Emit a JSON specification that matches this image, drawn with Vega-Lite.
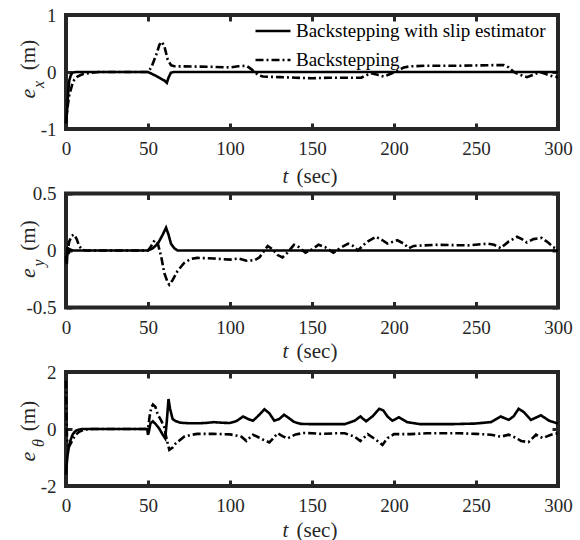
{
"$schema": "https://vega.github.io/schema/vega-lite/v6.json",
"padding": {"left": 14, "top": 4, "right": 5, "bottom": 0},
"background": "white",
"config": {
  "font": "Liberation Serif",
  "view": {"stroke": "#262626", "strokeWidth": 4},
  "axis": {"domain": false, "grid": false, "labelFont": "Liberation Serif", "labelFontSize": 19, "labelColor": "#262626", "titleColor": "#262626", "tickColor": "#262626", "tickWidth": 3, "tickSize": -6, "titleFont": "Liberation Serif", "titleFontWeight": "normal", "titleFontSize": 21, "labelFlush": false}
},
"datasets": {
"ex": [
{"t":0,"s":"Backstepping with slip estimator","v":-0.9},{"t":0.5,"s":"Backstepping with slip estimator","v":-0.75},{"t":1,"s":"Backstepping with slip estimator","v":-0.5},{"t":1.5,"s":"Backstepping with slip estimator","v":-0.3},{"t":2,"s":"Backstepping with slip estimator","v":-0.15},{"t":3,"s":"Backstepping with slip estimator","v":-0.05},{"t":4,"s":"Backstepping with slip estimator","v":-0.01},{"t":6,"s":"Backstepping with slip estimator","v":0},{"t":50,"s":"Backstepping with slip estimator","v":0},{"t":55,"s":"Backstepping with slip estimator","v":-0.07},{"t":60,"s":"Backstepping with slip estimator","v":-0.15},{"t":61.5,"s":"Backstepping with slip estimator","v":-0.19},{"t":62.5,"s":"Backstepping with slip estimator","v":-0.1},{"t":64,"s":"Backstepping with slip estimator","v":-0.01},{"t":66,"s":"Backstepping with slip estimator","v":0},{"t":150,"s":"Backstepping with slip estimator","v":0},{"t":300,"s":"Backstepping with slip estimator","v":0},
{"t":0,"s":"Backstepping","v":-0.9},{"t":1,"s":"Backstepping","v":-0.6},{"t":2,"s":"Backstepping","v":-0.4},{"t":3,"s":"Backstepping","v":-0.3},{"t":4,"s":"Backstepping","v":-0.2},{"t":5,"s":"Backstepping","v":-0.14},{"t":7,"s":"Backstepping","v":-0.08},{"t":10,"s":"Backstepping","v":-0.04},{"t":15,"s":"Backstepping","v":-0.015},{"t":20,"s":"Backstepping","v":0},{"t":50,"s":"Backstepping","v":0},{"t":52,"s":"Backstepping","v":0.08},{"t":55,"s":"Backstepping","v":0.3},{"t":57,"s":"Backstepping","v":0.48},{"t":58.5,"s":"Backstepping","v":0.53},{"t":60,"s":"Backstepping","v":0.45},{"t":62,"s":"Backstepping","v":0.22},{"t":64,"s":"Backstepping","v":0.12},{"t":66,"s":"Backstepping","v":0.1},{"t":80,"s":"Backstepping","v":0.095},{"t":90,"s":"Backstepping","v":0.09},{"t":100,"s":"Backstepping","v":0.08},{"t":105,"s":"Backstepping","v":0.1},{"t":110,"s":"Backstepping","v":0.11},{"t":113,"s":"Backstepping","v":0.05},{"t":117,"s":"Backstepping","v":-0.05},{"t":120,"s":"Backstepping","v":-0.08},{"t":130,"s":"Backstepping","v":-0.09},{"t":140,"s":"Backstepping","v":-0.1},{"t":150,"s":"Backstepping","v":-0.11},{"t":160,"s":"Backstepping","v":-0.1},{"t":180,"s":"Backstepping","v":-0.1},{"t":183,"s":"Backstepping","v":-0.06},{"t":186,"s":"Backstepping","v":-0.02},{"t":190,"s":"Backstepping","v":-0.05},{"t":194,"s":"Backstepping","v":-0.08},{"t":198,"s":"Backstepping","v":-0.03},{"t":202,"s":"Backstepping","v":0.02},{"t":206,"s":"Backstepping","v":0.08},{"t":210,"s":"Backstepping","v":0.1},{"t":220,"s":"Backstepping","v":0.11},{"t":240,"s":"Backstepping","v":0.11},{"t":260,"s":"Backstepping","v":0.12},{"t":267,"s":"Backstepping","v":0.12},{"t":270,"s":"Backstepping","v":0.08},{"t":273,"s":"Backstepping","v":0},{"t":277,"s":"Backstepping","v":-0.05},{"t":281,"s":"Backstepping","v":-0.09},{"t":285,"s":"Backstepping","v":-0.05},{"t":289,"s":"Backstepping","v":0},{"t":293,"s":"Backstepping","v":-0.04},{"t":297,"s":"Backstepping","v":-0.08},{"t":300,"s":"Backstepping","v":-0.09}
],
"ey": [
{"t":0,"s":"Backstepping with slip estimator","v":-0.05},{"t":0.5,"s":"Backstepping with slip estimator","v":-0.12},{"t":1,"s":"Backstepping with slip estimator","v":0.03},{"t":1.5,"s":"Backstepping with slip estimator","v":-0.03},{"t":2.5,"s":"Backstepping with slip estimator","v":0.01},{"t":4,"s":"Backstepping with slip estimator","v":0},{"t":50,"s":"Backstepping with slip estimator","v":0},{"t":53,"s":"Backstepping with slip estimator","v":0.02},{"t":56,"s":"Backstepping with slip estimator","v":0.06},{"t":59,"s":"Backstepping with slip estimator","v":0.14},{"t":61,"s":"Backstepping with slip estimator","v":0.2},{"t":62.5,"s":"Backstepping with slip estimator","v":0.14},{"t":64,"s":"Backstepping with slip estimator","v":0.06},{"t":66,"s":"Backstepping with slip estimator","v":0.02},{"t":68,"s":"Backstepping with slip estimator","v":0},{"t":300,"s":"Backstepping with slip estimator","v":0},
{"t":0,"s":"Backstepping","v":-0.1},{"t":1,"s":"Backstepping","v":0},{"t":2,"s":"Backstepping","v":0.08},{"t":3.5,"s":"Backstepping","v":0.13},{"t":5,"s":"Backstepping","v":0.14},{"t":6.5,"s":"Backstepping","v":0.1},{"t":8,"s":"Backstepping","v":0.04},{"t":10,"s":"Backstepping","v":0.005},{"t":12,"s":"Backstepping","v":0},{"t":50,"s":"Backstepping","v":0},{"t":52,"s":"Backstepping","v":0.04},{"t":54,"s":"Backstepping","v":0.09},{"t":56,"s":"Backstepping","v":0.06},{"t":58,"s":"Backstepping","v":-0.05},{"t":60,"s":"Backstepping","v":-0.2},{"t":62,"s":"Backstepping","v":-0.28},{"t":63,"s":"Backstepping","v":-0.3},{"t":65,"s":"Backstepping","v":-0.26},{"t":68,"s":"Backstepping","v":-0.18},{"t":72,"s":"Backstepping","v":-0.11},{"t":76,"s":"Backstepping","v":-0.075},{"t":80,"s":"Backstepping","v":-0.065},{"t":90,"s":"Backstepping","v":-0.07},{"t":100,"s":"Backstepping","v":-0.08},{"t":105,"s":"Backstepping","v":-0.07},{"t":110,"s":"Backstepping","v":-0.09},{"t":115,"s":"Backstepping","v":-0.085},{"t":118,"s":"Backstepping","v":-0.06},{"t":121,"s":"Backstepping","v":0},{"t":123,"s":"Backstepping","v":0.04},{"t":126,"s":"Backstepping","v":0.01},{"t":129,"s":"Backstepping","v":-0.04},{"t":132,"s":"Backstepping","v":-0.06},{"t":135,"s":"Backstepping","v":-0.02},{"t":139,"s":"Backstepping","v":0.05},{"t":142,"s":"Backstepping","v":0.03},{"t":146,"s":"Backstepping","v":-0.02},{"t":150,"s":"Backstepping","v":0.01},{"t":154,"s":"Backstepping","v":0.05},{"t":158,"s":"Backstepping","v":0.03},{"t":163,"s":"Backstepping","v":-0.02},{"t":167,"s":"Backstepping","v":0.02},{"t":172,"s":"Backstepping","v":0.06},{"t":175,"s":"Backstepping","v":0.04},{"t":178,"s":"Backstepping","v":0},{"t":183,"s":"Backstepping","v":0.07},{"t":189,"s":"Backstepping","v":0.12},{"t":193,"s":"Backstepping","v":0.09},{"t":196,"s":"Backstepping","v":0.06},{"t":202,"s":"Backstepping","v":0.09},{"t":206,"s":"Backstepping","v":0.06},{"t":209,"s":"Backstepping","v":0.02},{"t":212,"s":"Backstepping","v":0.04},{"t":225,"s":"Backstepping","v":0.05},{"t":245,"s":"Backstepping","v":0.045},{"t":257,"s":"Backstepping","v":0.06},{"t":261,"s":"Backstepping","v":0.05},{"t":265,"s":"Backstepping","v":0.02},{"t":270,"s":"Backstepping","v":0.08},{"t":275,"s":"Backstepping","v":0.12},{"t":278,"s":"Backstepping","v":0.1},{"t":281,"s":"Backstepping","v":0.07},{"t":285,"s":"Backstepping","v":0.1},{"t":290,"s":"Backstepping","v":0.11},{"t":294,"s":"Backstepping","v":0.07},{"t":297,"s":"Backstepping","v":0.03},{"t":300,"s":"Backstepping","v":0.01}
],
"eth": [
{"t":0,"s":"Backstepping with slip estimator","v":-1.6},{"t":0.5,"s":"Backstepping with slip estimator","v":-1.2},{"t":1,"s":"Backstepping with slip estimator","v":-0.9},{"t":2,"s":"Backstepping with slip estimator","v":-0.55},{"t":3,"s":"Backstepping with slip estimator","v":-0.35},{"t":4,"s":"Backstepping with slip estimator","v":-0.2},{"t":5,"s":"Backstepping with slip estimator","v":-0.12},{"t":6,"s":"Backstepping with slip estimator","v":-0.06},{"t":8,"s":"Backstepping with slip estimator","v":-0.02},{"t":10,"s":"Backstepping with slip estimator","v":0},{"t":49.5,"s":"Backstepping with slip estimator","v":0},{"t":50,"s":"Backstepping with slip estimator","v":-0.2},{"t":50.5,"s":"Backstepping with slip estimator","v":-0.1},{"t":51.5,"s":"Backstepping with slip estimator","v":0.2},{"t":53,"s":"Backstepping with slip estimator","v":0.27},{"t":55,"s":"Backstepping with slip estimator","v":0.15},{"t":57,"s":"Backstepping with slip estimator","v":0},{"t":59,"s":"Backstepping with slip estimator","v":-0.2},{"t":60.5,"s":"Backstepping with slip estimator","v":-0.33},{"t":61.5,"s":"Backstepping with slip estimator","v":0.3},{"t":62.5,"s":"Backstepping with slip estimator","v":1.05},{"t":63.5,"s":"Backstepping with slip estimator","v":0.7},{"t":65,"s":"Backstepping with slip estimator","v":0.35},{"t":67,"s":"Backstepping with slip estimator","v":0.27},{"t":70,"s":"Backstepping with slip estimator","v":0.22},{"t":75,"s":"Backstepping with slip estimator","v":0.2},{"t":80,"s":"Backstepping with slip estimator","v":0.2},{"t":85,"s":"Backstepping with slip estimator","v":0.21},{"t":90,"s":"Backstepping with slip estimator","v":0.24},{"t":95,"s":"Backstepping with slip estimator","v":0.22},{"t":100,"s":"Backstepping with slip estimator","v":0.21},{"t":104,"s":"Backstepping with slip estimator","v":0.28},{"t":108,"s":"Backstepping with slip estimator","v":0.44},{"t":111,"s":"Backstepping with slip estimator","v":0.35},{"t":114,"s":"Backstepping with slip estimator","v":0.29},{"t":117,"s":"Backstepping with slip estimator","v":0.45},{"t":121,"s":"Backstepping with slip estimator","v":0.69},{"t":124,"s":"Backstepping with slip estimator","v":0.55},{"t":127,"s":"Backstepping with slip estimator","v":0.29},{"t":130,"s":"Backstepping with slip estimator","v":0.35},{"t":133,"s":"Backstepping with slip estimator","v":0.5},{"t":136,"s":"Backstepping with slip estimator","v":0.38},{"t":139,"s":"Backstepping with slip estimator","v":0.25},{"t":143,"s":"Backstepping with slip estimator","v":0.18},{"t":150,"s":"Backstepping with slip estimator","v":0.17},{"t":170,"s":"Backstepping with slip estimator","v":0.17},{"t":176,"s":"Backstepping with slip estimator","v":0.29},{"t":179.5,"s":"Backstepping with slip estimator","v":0.44},{"t":183,"s":"Backstepping with slip estimator","v":0.27},{"t":187,"s":"Backstepping with slip estimator","v":0.45},{"t":191,"s":"Backstepping with slip estimator","v":0.71},{"t":193.5,"s":"Backstepping with slip estimator","v":0.65},{"t":196,"s":"Backstepping with slip estimator","v":0.44},{"t":199,"s":"Backstepping with slip estimator","v":0.29},{"t":203,"s":"Backstepping with slip estimator","v":0.41},{"t":208,"s":"Backstepping with slip estimator","v":0.24},{"t":216,"s":"Backstepping with slip estimator","v":0.17},{"t":235,"s":"Backstepping with slip estimator","v":0.17},{"t":249,"s":"Backstepping with slip estimator","v":0.19},{"t":259,"s":"Backstepping with slip estimator","v":0.24},{"t":265,"s":"Backstepping with slip estimator","v":0.44},{"t":270,"s":"Backstepping with slip estimator","v":0.32},{"t":273,"s":"Backstepping with slip estimator","v":0.45},{"t":276,"s":"Backstepping with slip estimator","v":0.71},{"t":279,"s":"Backstepping with slip estimator","v":0.6},{"t":283.5,"s":"Backstepping with slip estimator","v":0.32},{"t":289.6,"s":"Backstepping with slip estimator","v":0.48},{"t":294.6,"s":"Backstepping with slip estimator","v":0.29},{"t":299,"s":"Backstepping with slip estimator","v":0.21},{"t":300,"s":"Backstepping with slip estimator","v":0.2},
{"t":0,"s":"Backstepping","v":1.7},{"t":0.3,"s":"Backstepping","v":0.5},{"t":0.6,"s":"Backstepping","v":-0.3},{"t":1,"s":"Backstepping","v":-0.55},{"t":2,"s":"Backstepping","v":-0.6},{"t":3,"s":"Backstepping","v":-0.5},{"t":4,"s":"Backstepping","v":-0.38},{"t":5,"s":"Backstepping","v":-0.28},{"t":6,"s":"Backstepping","v":-0.2},{"t":8,"s":"Backstepping","v":-0.1},{"t":10,"s":"Backstepping","v":-0.05},{"t":13,"s":"Backstepping","v":-0.01},{"t":16,"s":"Backstepping","v":0},{"t":50,"s":"Backstepping","v":0},{"t":51,"s":"Backstepping","v":0.45},{"t":52,"s":"Backstepping","v":0.75},{"t":53,"s":"Backstepping","v":0.86},{"t":54.5,"s":"Backstepping","v":0.78},{"t":56,"s":"Backstepping","v":0.5},{"t":58,"s":"Backstepping","v":0.3},{"t":60,"s":"Backstepping","v":0.05},{"t":61.5,"s":"Backstepping","v":-0.4},{"t":63,"s":"Backstepping","v":-0.73},{"t":65,"s":"Backstepping","v":-0.65},{"t":67,"s":"Backstepping","v":-0.5},{"t":72,"s":"Backstepping","v":-0.27},{"t":77,"s":"Backstepping","v":-0.2},{"t":80,"s":"Backstepping","v":-0.17},{"t":90,"s":"Backstepping","v":-0.17},{"t":100,"s":"Backstepping","v":-0.19},{"t":103,"s":"Backstepping","v":-0.22},{"t":107,"s":"Backstepping","v":-0.27},{"t":110,"s":"Backstepping","v":-0.42},{"t":114,"s":"Backstepping","v":-0.2},{"t":117,"s":"Backstepping","v":-0.28},{"t":120,"s":"Backstepping","v":-0.37},{"t":124,"s":"Backstepping","v":-0.47},{"t":126,"s":"Backstepping","v":-0.35},{"t":129,"s":"Backstepping","v":-0.15},{"t":132,"s":"Backstepping","v":-0.25},{"t":135,"s":"Backstepping","v":-0.33},{"t":140,"s":"Backstepping","v":-0.19},{"t":145,"s":"Backstepping","v":-0.14},{"t":150,"s":"Backstepping","v":-0.15},{"t":155,"s":"Backstepping","v":-0.17},{"t":165,"s":"Backstepping","v":-0.15},{"t":170,"s":"Backstepping","v":-0.15},{"t":176,"s":"Backstepping","v":-0.27},{"t":179.5,"s":"Backstepping","v":-0.42},{"t":184,"s":"Backstepping","v":-0.18},{"t":189,"s":"Backstepping","v":-0.38},{"t":193,"s":"Backstepping","v":-0.56},{"t":196,"s":"Backstepping","v":-0.32},{"t":200,"s":"Backstepping","v":-0.18},{"t":210,"s":"Backstepping","v":-0.18},{"t":220,"s":"Backstepping","v":-0.15},{"t":240,"s":"Backstepping","v":-0.15},{"t":250,"s":"Backstepping","v":-0.17},{"t":259,"s":"Backstepping","v":-0.2},{"t":265,"s":"Backstepping","v":-0.27},{"t":270,"s":"Backstepping","v":-0.2},{"t":274,"s":"Backstepping","v":-0.3},{"t":277.5,"s":"Backstepping","v":-0.42},{"t":282,"s":"Backstepping","v":-0.46},{"t":286.6,"s":"Backstepping","v":-0.2},{"t":290.8,"s":"Backstepping","v":-0.32},{"t":295.7,"s":"Backstepping","v":-0.2},{"t":300,"s":"Backstepping","v":-0.15}
]
},
"spacing": 64.5,
"bounds": "flush",
"resolve": {"legend": {"strokeDash": "independent"}},
"vconcat": [
{
 "width": 492, "height": 114,
 "data": {"name": "ex"},
 "resolve": {"axis": {"x": "independent", "y": "independent"}},
 "layer": [
  {"mark": {"type": "line", "color": "black", "strokeWidth": 2.6},
   "encoding": {
    "x": {"field": "t", "type": "quantitative", "scale": {"domain": [0,300], "nice": false}, "axis": {"orient": "bottom", "values": [0,50,100,150,200,250,300], "labelBaseline": "alphabetic", "labelPadding": 31.5, "title": "(sec)", "titleX": 250.5, "titleY": 53, "titleAlign": "center", "titleBaseline": "alphabetic"}},
    "y": {"field": "v", "type": "quantitative", "scale": {"domain": [-1,1], "nice": false}, "axis": {"orient": "left", "values": [-1,0,1], "labelExpr": "datum.value < 0 ? '-' + format(-datum.value, '~g') : format(datum.value, '~g')", "labelPadding": 16, "title": "(m)", "titleAngle": 270, "titleX": -31.5, "titleY": 39.5, "titleAlign": "center", "titleBaseline": "alphabetic"}},
    "strokeDash": {"field": "s", "type": "nominal", "scale": {"domain": ["Backstepping with slip estimator", "Backstepping"], "range": [[1,0],[8,3,2,3]]}, "legend": {"orient": "none", "legendX": 188, "legendY": -3, "title": null, "padding": 0, "symbolType": "stroke", "symbolSize": 1225, "symbolStrokeWidth": 2.6, "symbolStrokeColor": "black", "labelFont": "Liberation Serif", "labelFontSize": 19, "labelColor": "black", "labelOffset": 4, "rowPadding": -9, "labelLimit": 400}}
   }},
  {"mark": {"type": "line", "opacity": 0},
   "encoding": {
    "x": {"field": "t", "type": "quantitative", "axis": {"orient": "top", "values": [0,50,100,150,200,250,300], "labels": false, "title": null}},
    "y": {"field": "v", "type": "quantitative", "axis": {"orient": "right", "values": [-1,0,1], "labels": false, "title": null}}
   }},
  {"mark": {"type": "line", "opacity": 0},
   "encoding": {
    "x": {"field": "t", "type": "quantitative", "axis": {"orient": "bottom", "labels": false, "ticks": false, "title": "t", "titleFontStyle": "italic", "titleX": 219, "titleY": 53, "titleAlign": "center", "titleBaseline": "alphabetic"}},
    "y": {"field": "v", "type": "quantitative", "axis": {"orient": "left", "labels": false, "ticks": false, "title": "e", "titleFontStyle": "italic", "titleFontSize": 22, "titleAngle": 270, "titleX": -31.5, "titleY": 78, "titleAlign": "center", "titleBaseline": "alphabetic"}}
   }},
  {"mark": {"type": "line", "opacity": 0},
   "encoding": {
    "x": {"field": "t", "type": "quantitative", "axis": null},
    "y": {"field": "v", "type": "quantitative", "axis": {"orient": "left", "labels": false, "ticks": false, "title": "x", "titleFontStyle": "italic", "titleFontSize": 16, "titleAngle": 270, "titleX": -23, "titleY": 69, "titleAlign": "center", "titleBaseline": "alphabetic"}}
   }}
 ]
},
{
 "width": 492, "height": 114,
 "data": {"name": "ey"},
 "resolve": {"axis": {"x": "independent", "y": "independent"}},
 "layer": [
  {"mark": {"type": "line", "color": "black", "strokeWidth": 2.6},
   "encoding": {
    "x": {"field": "t", "type": "quantitative", "scale": {"domain": [0,300], "nice": false}, "axis": {"orient": "bottom", "values": [0,50,100,150,200,250,300], "labelBaseline": "alphabetic", "labelPadding": 31.5, "title": "(sec)", "titleX": 250.5, "titleY": 50, "titleAlign": "center", "titleBaseline": "alphabetic"}},
    "y": {"field": "v", "type": "quantitative", "scale": {"domain": [-0.5,0.5], "nice": false}, "axis": {"orient": "left", "values": [-0.5,0,0.5], "labelExpr": "datum.value < 0 ? '-' + format(-datum.value, '~g') : format(datum.value, '~g')", "labelPadding": 16, "title": "(m)", "titleAngle": 270, "titleX": -31.5, "titleY": 41.5, "titleAlign": "center", "titleBaseline": "alphabetic"}},
    "strokeDash": {"field": "s", "type": "nominal", "scale": {"domain": ["Backstepping with slip estimator", "Backstepping"], "range": [[1,0],[8,3,2,3]]}, "legend": null}
   }},
  {"mark": {"type": "line", "opacity": 0},
   "encoding": {
    "x": {"field": "t", "type": "quantitative", "axis": {"orient": "top", "values": [0,50,100,150,200,250,300], "labels": false, "title": null}},
    "y": {"field": "v", "type": "quantitative", "axis": {"orient": "right", "values": [-0.5,0,0.5], "labels": false, "title": null}}
   }},
  {"mark": {"type": "line", "opacity": 0},
   "encoding": {
    "x": {"field": "t", "type": "quantitative", "axis": {"orient": "bottom", "labels": false, "ticks": false, "title": "t", "titleFontStyle": "italic", "titleX": 219, "titleY": 50, "titleAlign": "center", "titleBaseline": "alphabetic"}},
    "y": {"field": "v", "type": "quantitative", "axis": {"orient": "left", "labels": false, "ticks": false, "title": "e", "titleFontStyle": "italic", "titleFontSize": 22, "titleAngle": 270, "titleX": -31.5, "titleY": 79, "titleAlign": "center", "titleBaseline": "alphabetic"}}
   }},
  {"mark": {"type": "line", "opacity": 0},
   "encoding": {
    "x": {"field": "t", "type": "quantitative", "axis": null},
    "y": {"field": "v", "type": "quantitative", "axis": {"orient": "left", "labels": false, "ticks": false, "title": "y", "titleFontStyle": "italic", "titleFontSize": 16, "titleAngle": 270, "titleX": -23, "titleY": 69, "titleAlign": "center", "titleBaseline": "alphabetic"}}
   }}
 ]
},
{
 "width": 492, "height": 114,
 "data": {"name": "eth"},
 "resolve": {"axis": {"x": "independent", "y": "independent"}},
 "layer": [
  {"mark": {"type": "line", "color": "black", "strokeWidth": 2.6},
   "encoding": {
    "x": {"field": "t", "type": "quantitative", "scale": {"domain": [0,300], "nice": false}, "axis": {"orient": "bottom", "values": [0,50,100,150,200,250,300], "labelBaseline": "alphabetic", "labelPadding": 31.5, "title": "(sec)", "titleX": 250.5, "titleY": 50, "titleAlign": "center", "titleBaseline": "alphabetic"}},
    "y": {"field": "v", "type": "quantitative", "scale": {"domain": [-2,2], "nice": false}, "axis": {"orient": "left", "values": [-2,0,2], "labelExpr": "datum.value < 0 ? '-' + format(-datum.value, '~g') : format(datum.value, '~g')", "labelPadding": 16, "title": "(m)", "titleAngle": 270, "titleX": -31.5, "titleY": 43.5, "titleAlign": "center", "titleBaseline": "alphabetic"}},
    "strokeDash": {"field": "s", "type": "nominal", "scale": {"domain": ["Backstepping with slip estimator", "Backstepping"], "range": [[1,0],[8,3,2,3]]}, "legend": null}
   }},
  {"mark": {"type": "line", "opacity": 0},
   "encoding": {
    "x": {"field": "t", "type": "quantitative", "axis": {"orient": "top", "values": [0,50,100,150,200,250,300], "labels": false, "title": null}},
    "y": {"field": "v", "type": "quantitative", "axis": {"orient": "right", "values": [-2,0,2], "labels": false, "title": null}}
   }},
  {"mark": {"type": "line", "opacity": 0},
   "encoding": {
    "x": {"field": "t", "type": "quantitative", "axis": {"orient": "bottom", "labels": false, "ticks": false, "title": "t", "titleFontStyle": "italic", "titleX": 219, "titleY": 50, "titleAlign": "center", "titleBaseline": "alphabetic"}},
    "y": {"field": "v", "type": "quantitative", "axis": {"orient": "left", "labels": false, "ticks": false, "title": "e", "titleFontStyle": "italic", "titleFontSize": 22, "titleAngle": 270, "titleX": -31.5, "titleY": 84, "titleAlign": "center", "titleBaseline": "alphabetic"}}
   }},
  {"mark": {"type": "line", "opacity": 0},
   "encoding": {
    "x": {"field": "t", "type": "quantitative", "axis": null},
    "y": {"field": "v", "type": "quantitative", "axis": {"orient": "left", "labels": false, "ticks": false, "title": "θ", "titleFontStyle": "italic", "titleFontSize": 16, "titleAngle": 270, "titleX": -23, "titleY": 70.5, "titleAlign": "center", "titleBaseline": "alphabetic"}}
   }}
 ]
}
]
}
